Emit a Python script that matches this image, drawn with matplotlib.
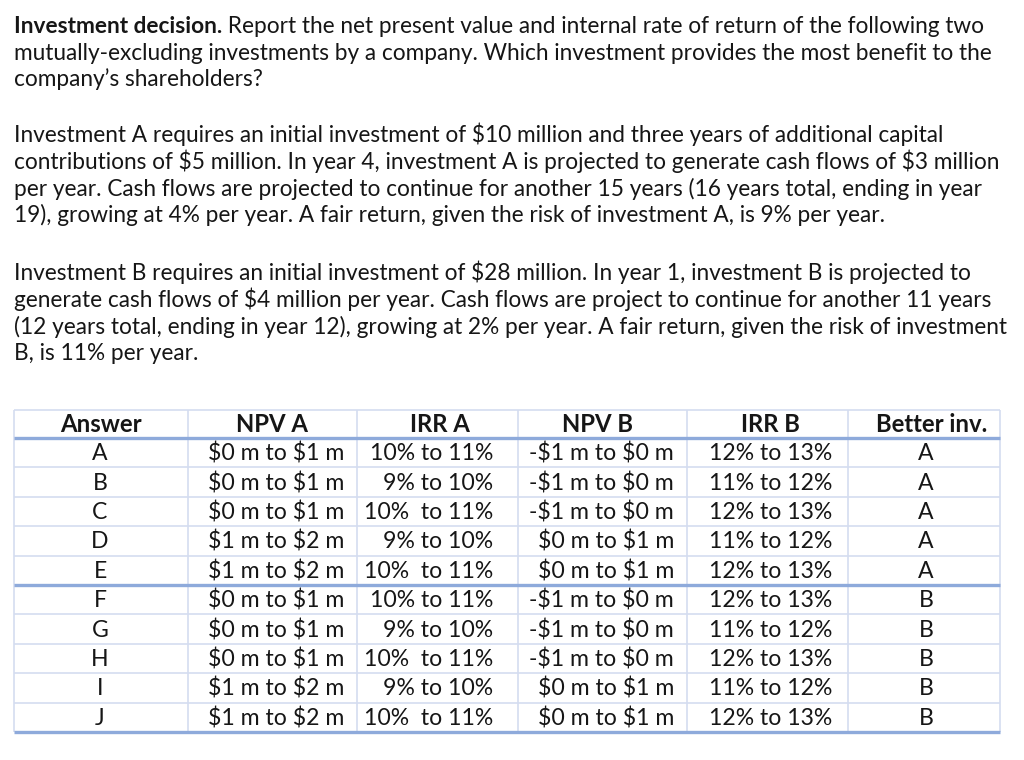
import matplotlib.pyplot as plt

plt.rcParams['font.family'] = ['Lato', 'DejaVu Sans']
plt.rcParams['text.parse_math'] = False

title_bold = 'Investment decision.'
title_rest = [
    ' Report the net present value and internal rate of return of the following two',
    'mutually-excluding investments by a company. Which investment provides the most benefit to the',
    'company\u2019s shareholders?',
]
para_a = [
    'Investment A requires an initial investment of $10 million and three years of additional capital',
    'contributions of $5 million. In year 4, investment A is projected to generate cash flows of $3 million',
    'per year. Cash flows are projected to continue for another 15 years (16 years total, ending in year',
    '19), growing at 4% per year. A fair return, given the risk of investment A, is 9% per year.',
]
para_b = [
    'Investment B requires an initial investment of $28 million. In year 1, investment B is projected to',
    'generate cash flows of $4 million per year. Cash flows are project to continue for another 11 years',
    '(12 years total, ending in year 12), growing at 2% per year. A fair return, given the risk of investment',
    'B, is 11% per year.',
]

headers = ['Answer', 'NPV A', 'IRR A', 'NPV B', 'IRR B', 'Better inv.']
answers = ['A', 'B', 'C', 'D', 'E', 'F', 'G', 'H', 'I', 'J']
npv_a = ['$0 m to $1 m', '$0 m to $1 m', '$0 m to $1 m', '$1 m to $2 m', '$1 m to $2 m',
         '$0 m to $1 m', '$0 m to $1 m', '$0 m to $1 m', '$1 m to $2 m', '$1 m to $2 m']
irr_a = ['10% to 11%', '9% to 10%', '10%  to 11%', '9% to 10%', '10%  to 11%',
         '10% to 11%', '9% to 10%', '10%  to 11%', '9% to 10%', '10%  to 11%']
npv_b = ['-$1 m to $0 m', '-$1 m to $0 m', '-$1 m to $0 m', '$0 m to $1 m', '$0 m to $1 m',
         '-$1 m to $0 m', '-$1 m to $0 m', '-$1 m to $0 m', '$0 m to $1 m', '$0 m to $1 m']
irr_b = ['12% to 13%', '11% to 12%', '12% to 13%', '11% to 12%', '12% to 13%',
         '12% to 13%', '11% to 12%', '12% to 13%', '11% to 12%', '12% to 13%']
better = ['A', 'A', 'A', 'A', 'A', 'B', 'B', 'B', 'B', 'B']

ink = '#161616'
thin = '#d4ddf0'
thick = '#8eaadb'

fig = plt.figure(figsize=(10.24, 7.6), dpi=100)
ax = fig.add_axes([0, 0, 1, 1])
ax.set_xlim(0, 1024)
ax.set_ylim(760, 0)
ax.axis('off')

fs = 16.3
x0 = 14
# first paragraph, bold lead-in
bt = ax.text(x0, 33, title_bold, fontsize=fs, fontweight='bold', color=ink, va='baseline')
ax.annotate(title_rest[0], xy=(1, 0), xycoords=bt, fontsize=fs, color=ink, va='bottom', ha='left')
for i, line in enumerate(title_rest[1:]):
    ax.text(x0, 33 + 26.5 * (i + 1), line, fontsize=fs, color=ink, va='baseline')
for i, line in enumerate(para_a):
    ax.text(x0, 142 + 26.8 * i, line, fontsize=fs, color=ink, va='baseline')
for i, line in enumerate(para_b):
    ax.text(x0, 280 + 26.8 * i, line, fontsize=fs, color=ink, va='baseline')

# table
cols = [14, 188, 357, 518, 687, 848, 1000]
top, head_bot = 410, 438
row_h = 29.4
rows_y = [head_bot + row_h * i for i in range(len(answers) + 1)]
for x in cols:
    ax.vlines(x, top, rows_y[-1], color=thin, lw=1.2)
ax.hlines(top, cols[0], cols[-1], color=thin, lw=1.2)
for i, y in enumerate(rows_y):
    if i in (0, 5, len(answers)):
        ax.hlines(y, cols[0], cols[-1], color=thick, lw=2.4)
    else:
        ax.hlines(y, cols[0], cols[-1], color=thin, lw=1.2)

tfs = 16.6
head_x = [101, 272, 440, 598, 770, 932]
for x, h in zip(head_x, headers):
    ax.text(x, (top + head_bot) / 2 + 1, h, fontsize=17.2, fontweight='bold', color=ink,
            ha='center', va='center')

for i in range(len(answers)):
    y = (rows_y[i] + rows_y[i + 1]) / 2 + 1
    ax.text(100, y, answers[i], fontsize=tfs, color=ink, ha='center', va='center')
    ax.text(344, y, npv_a[i], fontsize=tfs, color=ink, ha='right', va='center')
    ax.text(493, y, irr_a[i], fontsize=tfs, color=ink, ha='right', va='center')
    ax.text(674, y, npv_b[i], fontsize=tfs, color=ink, ha='right', va='center')
    ax.text(709, y, irr_b[i], fontsize=tfs, color=ink, ha='left', va='center')
    ax.text(926, y, better[i], fontsize=tfs, color=ink, ha='center', va='center')

fig.savefig('out.png', dpi=100, facecolor='white')
